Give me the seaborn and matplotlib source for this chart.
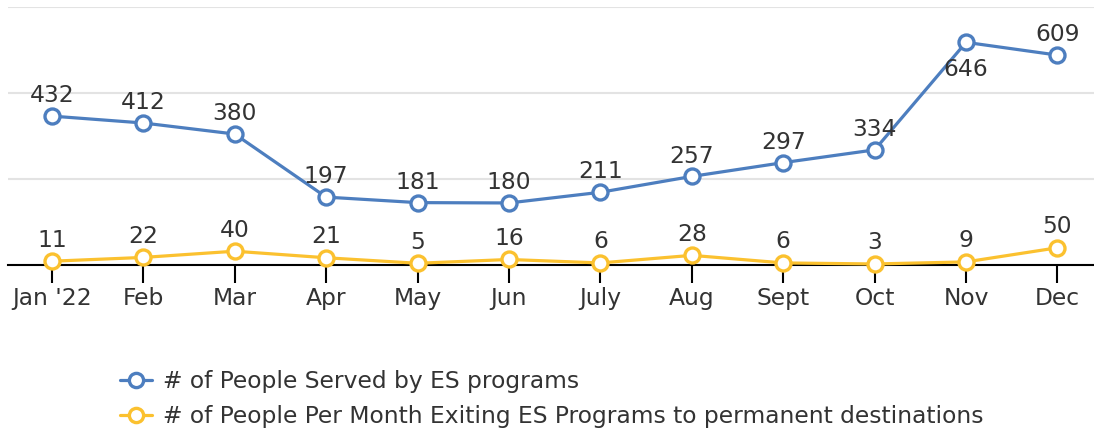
import pandas as pd
import matplotlib
matplotlib.use("Agg")
import matplotlib.pyplot as plt
import seaborn as sns

# --- Data ---
months = ["Jan '22", "Feb", "Mar", "Apr", "May", "Jun", "July", "Aug", "Sept", "Oct", "Nov", "Dec"]
served = [432, 412, 380, 197, 181, 180, 211, 257, 297, 334, 646, 609]
exiting = [11, 22, 40, 21, 5, 16, 6, 28, 6, 3, 9, 50]
served_name = "# of People Served by ES programs"
exiting_name = "# of People Per Month Exiting ES Programs to permanent destinations"

BLUE = "#4d7ebf"
YELLOW = "#fbc12f"
TEXT = "#333333"
FS = 16.8

sns.set_style("white")
plt.rcParams["font.family"] = ["DejaVu Sans"]

df = pd.DataFrame({"month": months, "served": served, "exiting": exiting})
df["pos"] = range(len(df))

fig = plt.figure(figsize=(10.94, 4.28), dpi=100)
ax = fig.add_axes([8 / 1094, 1 - 265 / 428, 1 - 8 / 1094, (265 - 6.5) / 428])

line_kw = dict(marker="o", markersize=10.8, markerfacecolor="white",
               markeredgewidth=2.4, linewidth=2.3, clip_on=False)
sns.lineplot(data=df, x="pos", y="served", color=BLUE, label=served_name,
             markeredgecolor=BLUE, ax=ax, zorder=4, **line_kw)
sns.lineplot(data=df, x="pos", y="exiting", color=YELLOW, label=exiting_name,
             markeredgecolor=YELLOW, ax=ax, zorder=4, **line_kw)

# value labels (baseline placed relative to the point)
for i, v in enumerate(served):
    dy = -24 if months[i] == "Nov" else 10
    ax.annotate(str(v), (i, v), xytext=(0, dy), textcoords="offset points",
                ha="center", va="baseline", fontsize=FS, color=TEXT, zorder=5)
for i, v in enumerate(exiting):
    ax.annotate(str(v), (i, v), xytext=(0, 10.5), textcoords="offset points",
                ha="center", va="baseline", fontsize=FS, color=TEXT, zorder=5)

ax.set_ylim(0, 750)
ax.set_xlim(-0.48, 11.4)
ax.set_yticks([0, 250, 500, 750])
ax.yaxis.grid(True, color="#e3e3e3", linewidth=1.5)
ax.set_axisbelow(True)
ax.tick_params(axis="y", left=False, labelleft=False)
ax.set_xticks(range(len(months)))
ax.set_xticklabels(months)
ax.tick_params(axis="x", bottom=True, length=13, width=1.5, color="black",
               labelsize=FS, labelcolor=TEXT, pad=2.8)
for s in ["top", "right", "left"]:
    ax.spines[s].set_visible(False)
ax.spines["bottom"].set_color("black")
ax.spines["bottom"].set_linewidth(1.5)
ax.set_xlabel("")
ax.set_ylabel("")

ax.legend(loc="upper left", bbox_to_anchor=(120 / 1094, 1 - 370 / 428),
          bbox_transform=fig.transFigure, frameon=False, fontsize=FS,
          labelcolor=TEXT, borderpad=0, borderaxespad=0, handlelength=1.37,
          handletextpad=0.47, labelspacing=0.5, markerscale=0.95)

fig.savefig("out.png", dpi=100)
